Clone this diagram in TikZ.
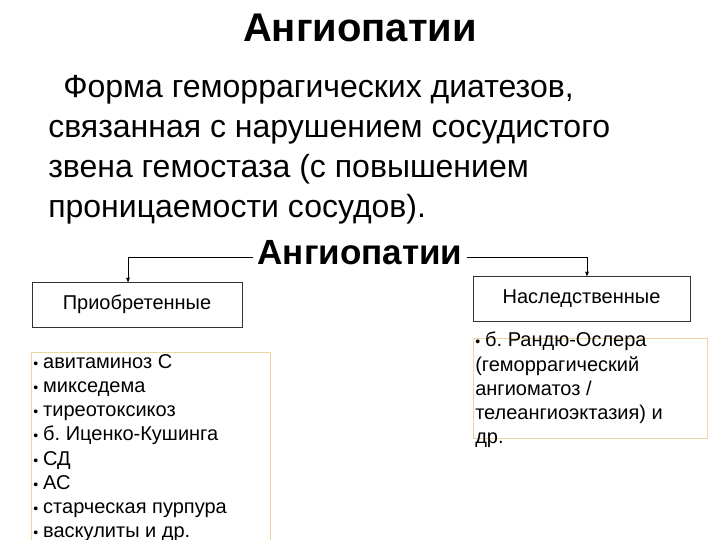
\documentclass[tikz,border=0pt]{standalone}
\usepackage{fontspec}
\setmainfont{Liberation Sans}
\frenchspacing
\usetikzlibrary{arrows}
\tikzstyle{block} = [rectangle, draw=black!80, thin, fill=white,
    minimum height=45pt, inner sep=0pt, font=\fontsize{20}{22}\selectfont]
\tikzstyle{listbox} = [rectangle, draw={rgb,255:red,238;green,212;blue,160}, line width=1pt]
\tikzstyle{listtext} = [align=left, inner sep=0pt, font=\fontsize{20}{24.2}\selectfont]
\newcommand{\itm}{{\fontsize{14}{14}\selectfont•}\hspace{0.25em}}

\begin{document}
\begin{tikzpicture}[x=1pt,y=-1pt,->,>=stealth',shorten >=0pt,semithick]
  \useasboundingbox (0,0) rectangle (720,540);

  \node[font=\fontsize{40}{44}\selectfont\bfseries] (title) at (360,28) {Ангиопатии};
  \node[anchor=north west, align=left, inner sep=0pt,
        font=\fontsize{32}{40}\selectfont] (defn) at (48,75)
       {\hspace*{15pt}Форма геморрагических диатезов,\\
        связанная с нарушением сосудистого\\
        звена гемостаза (с повышением\\
        проницаемости сосудов).};
  \node[font=\fontsize{35}{38}\selectfont\bfseries, inner sep=4pt] (ang) at (360,253) {Ангиопатии};

  \node[block, minimum width=210pt] (acq) at (137,304.5) {Приобретенные};
  \node[block, minimum width=217pt] (her) at (581.5,298.5) {Наследственные};

  \node[listbox, minimum width=239pt, minimum height=200pt, anchor=north west] (acqbox) at (31,352) {};
  \node[listtext, anchor=north west] (acqlist) at (33,354)
       {\itm авитаминоз С\\
        \itm микседема\\
        \itm тиреотоксикоз\\
        \itm б. Иценко-Кушинга\\
        \itm СД\\
        \itm АС\\
        \itm старческая пурпура\\
        \itm васкулиты и др.};
  \node[listbox, minimum width=234pt, minimum height=100pt, anchor=north west] (herbox) at (473,338) {};
  \node[listtext, anchor=north west] (herlist) at (475,332)
       {\itm б. Рандю-Ослера\\
        (геморрагический\\
        ангиоматоз /\\
        телеангиоэктазия) и\\
        др.};

  \draw ([yshift=-4pt]ang.west) -| ([xshift=-9pt]acq.north);
  \draw ([yshift=-4pt]ang.east) -| ([xshift=5.5pt]her.north);
\end{tikzpicture}
\end{document}
